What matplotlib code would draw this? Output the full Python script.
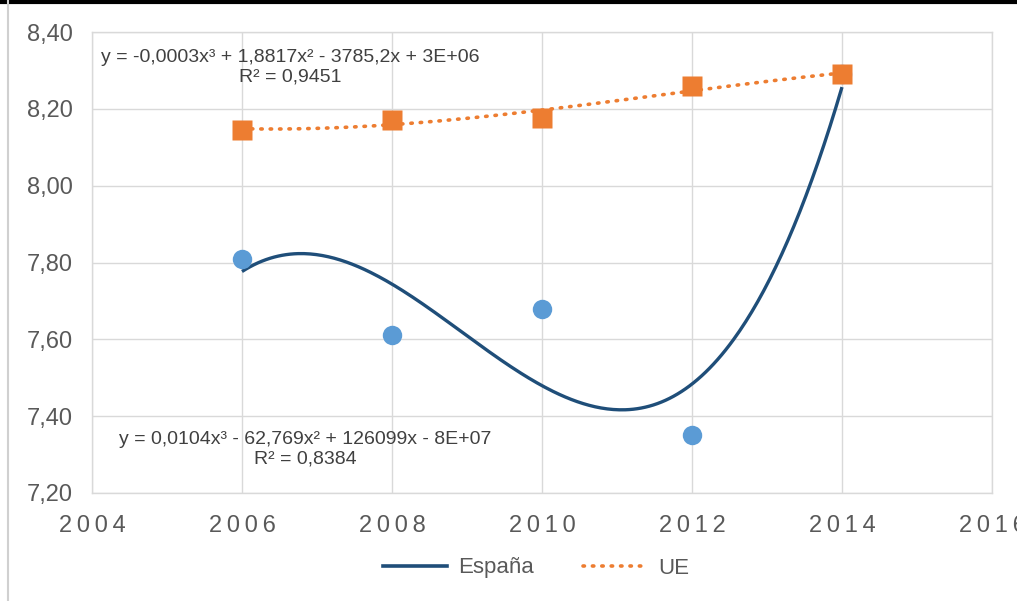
import numpy as np
import matplotlib
matplotlib.use("Agg")
import matplotlib.pyplot as plt
from matplotlib.lines import Line2D
from matplotlib.ticker import FuncFormatter

plt.rcParams["font.family"] = ["Liberation Sans", "DejaVu Sans"]

years = [2006, 2008, 2010, 2012, 2014]
espana = [7.81, 7.61, 7.68, 7.35, 8.29]
ue = [8.145, 8.172, 8.177, 8.260, 8.290]

eq_ue = "y = -0,0003x³ + 1,8817x² - 3785,2x + 3E+06\nR² = 0,9451"
eq_es = "y = 0,0104x³ - 62,769x² + 126099x - 8E+07\nR² = 0,8384"

C_ES_PT = "#5B9BD5"
C_ES_LN = "#1F4E79"
C_UE = "#ED7D31"
GRID = "#D9D9D9"
TXT = "#595959"


def trend(xs, ys, deg=3):
    x = np.asarray(xs, dtype=float) - 2010
    coef = np.polyfit(x, ys, deg)
    xx = np.linspace(x.min(), x.max(), 300)
    return xx + 2010, np.polyval(coef, xx)


fig = plt.figure(figsize=(10.17, 6.01), dpi=100)
ax = fig.add_axes([92 / 1017, 1 - 493 / 601, 900 / 1017, 461 / 601])

tx, ty = trend(years, espana)
ax.plot(tx, ty, color=C_ES_LN, lw=2.4, zorder=3, solid_capstyle="butt")
ax.plot(years, espana, "o", color=C_ES_PT, ms=14, mec="none", zorder=4)
ux, uy = trend(years, ue)
ax.plot(ux, uy, color=C_UE, lw=2.6, ls=(0, (0.4, 2.2)), dash_capstyle="round", zorder=5)
ax.plot(years, ue, "s", color=C_UE, ms=14.5, mec="none", zorder=6)

ax.set_xlim(2004, 2016)
ax.set_ylim(7.2, 8.4)
ax.set_xticks(range(2004, 2017, 2))
ax.set_yticks(np.arange(7.2, 8.41, 0.2))
ax.xaxis.set_major_formatter(FuncFormatter(lambda v, p: "\u2009".join(str(int(round(v))))))
ax.yaxis.set_major_formatter(FuncFormatter(lambda v, p: f"{v:.2f}".replace(".", ",")))
ax.tick_params(length=0, colors=TXT, labelsize=17)
ax.tick_params(axis="x", pad=16)
ax.tick_params(axis="y", pad=14)
ax.grid(True, color=GRID, lw=1)
ax.set_axisbelow(True)
for s in ax.spines.values():
    s.set_color(GRID)
    s.set_linewidth(1)

ax.text(2006.64, 8.308, eq_ue, ha="center", va="center", fontsize=14,
        color="#404040", linespacing=1.2)
ax.text(2006.84, 7.313, eq_es, ha="center", va="center", fontsize=14,
        color="#404040", linespacing=1.2)

handles = [
    Line2D([], [], color=C_ES_LN, lw=2.6),
    Line2D([], [], color=C_UE, lw=2.6, ls=(0, (0.4, 2.2)), dash_capstyle="round"),
]
fig.legend(handles, ["España", "UE"], loc="center", bbox_to_anchor=(0.527, 1 - 568 / 601),
           ncol=2, frameon=False, fontsize=16, labelcolor=TXT, handlelength=2.9,
           columnspacing=2.2, handletextpad=0.5)

# screenshot frame
fig.add_artist(Line2D([0, 1], [1 - 1.5 / 601] * 2, color="black", lw=3))
fig.add_artist(Line2D([7.5 / 1017] * 2, [0, 1], color="#D0D0D0", lw=1.5))

fig.savefig("out.png", dpi=100)
